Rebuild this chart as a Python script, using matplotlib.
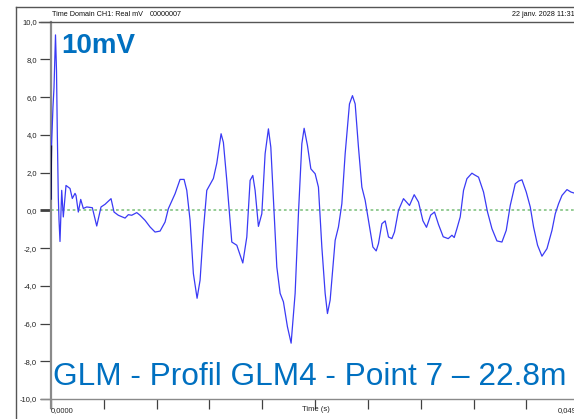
import matplotlib
matplotlib.use("Agg")
import matplotlib.pyplot as plt
from matplotlib.lines import Line2D

# ---- data ----
time_ms = [0.000, 0.047, 0.189, 0.284, 0.426, 0.521, 0.597, 0.691, 0.758, 0.852,
           1.013, 1.165, 1.420, 1.799, 2.017, 2.273, 2.367, 2.585, 2.813, 3.059,
           3.381, 3.911, 4.328, 4.735, 5.114, 5.682, 5.966, 6.373, 7.008, 7.320,
           7.642, 8.116, 8.428, 8.902, 9.375, 9.848, 10.322, 10.795, 11.108, 11.742,
           12.216, 12.595, 12.850, 13.163, 13.475, 13.826, 14.110, 14.422, 14.744, 15.369,
           15.691, 16.098, 16.316, 16.638, 17.112, 17.585, 18.153, 18.532, 18.845, 19.100,
           19.318, 19.631, 19.953, 20.265, 20.578, 20.805, 21.117, 21.373, 21.686, 21.998,
           22.377, 22.727, 23.106, 23.419, 23.741, 23.958, 24.271, 24.593, 25.000, 25.312,
           25.634, 25.947, 26.165, 26.420, 26.894, 27.206, 27.528, 27.841, 28.248, 28.532,
           28.788, 29.100, 29.422, 29.735, 30.047, 30.464, 30.777, 30.994, 31.316, 31.629,
           31.941, 32.263, 32.509, 32.888, 33.362, 33.930, 34.375, 34.782, 35.199, 35.540,
           35.938, 36.297, 36.676, 37.121, 37.595, 37.945, 38.163, 38.419, 38.731, 39.044,
           39.366, 39.839, 40.057, 40.464, 40.938, 41.316, 41.733, 42.206, 42.680, 43.087,
           43.466, 43.939, 44.252, 44.574, 44.981, 45.360, 45.672, 46.051, 46.468, 46.941,
           47.415, 47.727, 48.040, 48.362, 48.835, 49.214, 49.498]
signal_mv = [0.6, 3.4, 5.5, 6.5, 9.3, 7.4, 4.1, 0.7, -0.5, -1.65,
             1.06, -0.35, 1.32, 1.16, 0.63, 0.9, 0.79, -0.09, 0.58, 0.1,
             0.18, 0.14, -0.83, 0.18, 0.32, 0.62, -0.09, -0.26, -0.41, -0.23,
             -0.26, -0.12, -0.26, -0.53, -0.88, -1.15, -1.1, -0.62, 0.09, 0.88,
             1.64, 1.64, 1.06, -0.53, -3.35, -4.66, -3.7, -1.06, 1.06, 1.69,
             2.5, 4.06, 3.6, 1.59, -1.68, -1.85, -2.79, -1.41, 1.59, 1.85,
             1.06, -0.85, -0.18, 3.0, 4.32, 3.35, -0.18, -3.0, -4.4, -4.85,
             -6.17, -7.04, -4.4, -0.18, 3.53, 4.35, 3.44, 2.2, 1.94, 1.23,
             -1.94, -4.4, -5.47, -4.76, -1.59, -0.88, 0.35, 3.0, 5.64, 6.08,
             5.64, 3.35, 1.23, 0.53, -0.53, -1.94, -2.15, -1.76, -0.71, -0.56,
             -1.41, -1.5, -1.15, 0.0, 0.62, 0.26, 0.83, 0.44, -0.55, -0.9,
             -0.25, -0.09, -0.75, -1.4, -1.5, -1.32, -1.44, -0.97, -0.35, 1.06,
             1.68, 1.97, 1.89, 1.76, 0.97, -0.09, -0.97, -1.62, -1.68, -1.06,
             0.26, 1.41, 1.55, 1.62, 0.97, 0.18, -0.88, -1.85, -2.43, -2.03,
             -1.06, -0.18, 0.35, 0.79, 1.1, 0.97, 0.92]

y_ticks = [10, 8, 6, 4, 2, 0, -2, -4, -6, -8, -10]
y_tick_labels = ["10,0", "8,0", "6,0", "4,0", "2,0", "0,0", "-2,0", "-4,0", "-6,0", "-8,0", "-10,0"]
x_ticks = [0.000, 0.005, 0.010, 0.015, 0.020, 0.025, 0.030, 0.035, 0.040, 0.045]
x_start_label = "0,0000"
x_end_label = "0,0495"
x_axis_title = "Time (s)"
header_left = "Time Domain CH1: Real mV"
header_id = "00000007"
header_right = "22 janv. 2028 11:31"
scale_text = "10mV"
caption_text = "GLM - Profil GLM4 - Point 7 \u2013 22.8m"

time_s = [t / 1000.0 for t in time_ms]

W, H = 574, 419
fig = plt.figure(figsize=(W / 100, H / 100), dpi=100)
fig.patch.set_facecolor("white")

def fx(px):
    return px / W

def fy(py):
    return 1 - py / H

ax = fig.add_axes([fx(51), fy(399), fx(574) - fx(51), fy(21.7) - fy(399)])
ax.set_xlim(0, 0.0495)
ax.set_ylim(-10, 10)
ax.set_facecolor("white")

# zero reference line
ax.axhline(0, color="#8cc88c", lw=1.3, ls=(0, (1.5, 1.5)), zorder=1)

# waveform
ax.plot(time_s, signal_mv, color="#3a3af5", lw=0.9, zorder=3, solid_joinstyle="round")
ax.plot(time_s[:2], signal_mv[:2], color="#101040", lw=1.0, zorder=4)

# spines
ax.spines["right"].set_visible(False)
ax.spines["left"].set_color("#8a8a8a")
ax.spines["left"].set_linewidth(1.6)
ax.spines["left"].set_bounds(-10.48, 10)
ax.spines["bottom"].set_color("#8a8a8a")
ax.spines["bottom"].set_linewidth(1.0)
ax.spines["bottom"].set_bounds(-0.00095, 0.0495)
ax.spines["top"].set_color("#555555")
ax.spines["top"].set_linewidth(1.0)
ax.spines["top"].set_bounds(-0.0011, 0.0495)

ax.set_yticks(y_ticks)
ax.set_yticklabels(y_tick_labels)
ax.set_xticks(x_ticks)
ax.set_xticklabels([""] * len(x_ticks))
ax.tick_params(axis="y", length=8, width=0.9, color="#404040", pad=2,
               labelsize=5.5, labelcolor="#222222")
ax.tick_params(axis="x", length=7, width=0.9, color="#404040", pad=1)
for t, tl in zip(ax.yaxis.get_major_ticks(), y_ticks):
    if tl == 0:
        t.tick1line.set_color("#8a8a8a")
        t.tick1line.set_markeredgewidth(2.0)
for lab in ax.get_yticklabels():
    lab.set_fontfamily("Liberation Sans")

# x labels
fig.text(fx(51), fy(411), x_start_label, fontsize=5.5, family="Liberation Sans",
         color="#222222", ha="left", va="center")
fig.text(fx(558), fy(411), x_end_label, fontsize=5.5, family="Liberation Sans",
         color="#222222", ha="left", va="center")
fig.text(fx(316), fy(409), x_axis_title, fontsize=5.5, family="Liberation Sans",
         color="#222222", ha="center", va="center")

# header / frame
fig.add_artist(Line2D([fx(16), fx(16)], [fy(7), fy(419)], color="#555555", lw=1.0))
fig.add_artist(Line2D([fx(16), fx(574)], [fy(7.5), fy(7.5)], color="#555555", lw=1.0))
fig.text(fx(52), fy(14.5), header_left, fontsize=5.2, family="Liberation Sans",
         color="#111111", ha="left", va="center")
fig.text(fx(150), fy(14.5), header_id, fontsize=5.2, family="Liberation Sans",
         color="#111111", ha="left", va="center")
fig.text(fx(512), fy(14.5), header_right, fontsize=5.2, family="Liberation Sans",
         color="#111111", ha="left", va="center")

# overlay texts
fig.text(fx(61), fy(53), scale_text, fontsize=20, fontweight="bold",
         family="Liberation Sans", color="#0070c0", ha="left", va="baseline")
fig.text(fx(53), fy(385), caption_text, fontsize=22.8,
         family="Liberation Sans", color="#0070c0", ha="left", va="baseline")

fig.savefig("out.png", dpi=100, facecolor="white")
